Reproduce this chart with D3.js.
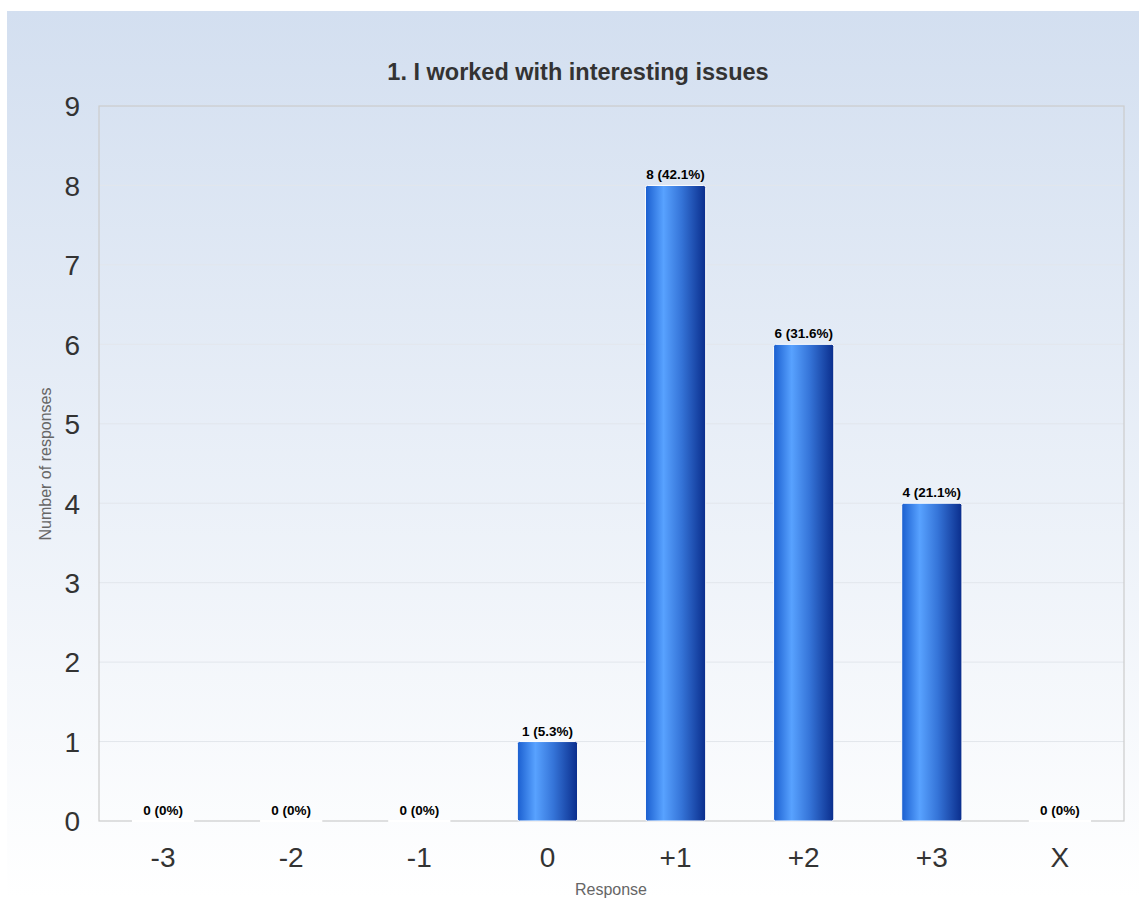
<!DOCTYPE html>
<html><head><meta charset="utf-8">
<script src="https://cdn.jsdelivr.net/npm/d3@7"></script>
<style>html,body{margin:0;padding:0;background:#fff;overflow:hidden}</style>
</head><body>
<svg id="c" width="1139" height="899"></svg>
<script>
const title = "1. I worked with interesting issues";
const categories = ["-3","-2","-1","0","+1","+2","+3","X"];
const counts = [0,0,0,1,8,6,4,0];
const percents = ["0%","0%","0%","5.3%","42.1%","31.6%","21.1%","0%"];
const yTicks = [0,1,2,3,4,5,6,7,8,9];
const yTitle = "Number of responses";
const xTitle = "Response";

const FONT = "Liberation Sans, Arial, sans-serif";
const svg = d3.select("#c");
const defs = svg.append("defs");
const bg = defs.append("linearGradient").attr("id","bg").attr("x1",0).attr("y1",0).attr("x2",0).attr("y2",1);
bg.append("stop").attr("offset","0%").attr("stop-color","#d3dff0");
bg.append("stop").attr("offset","100%").attr("stop-color","#ffffff");
const bar = defs.append("linearGradient").attr("id","bar").attr("x1",0).attr("y1",0).attr("x2",1).attr("y2",0);
bar.append("stop").attr("offset","0%").attr("stop-color","#1a5ecf");
bar.append("stop").attr("offset","30%").attr("stop-color","#58a2ff");
bar.append("stop").attr("offset","60%").attr("stop-color","#3574d8");
bar.append("stop").attr("offset","100%").attr("stop-color","#0a2d8c");

svg.append("rect").attr("x",7).attr("y",11).attr("width",1132).attr("height",886).attr("fill","url(#bg)");

const m = {l:99, r:1124, t:106, b:821};
const x = d3.scaleBand().domain(categories).range([m.l, m.r]).paddingInner(0.53).paddingOuter(0.265);
const y = d3.scaleLinear().domain([0,9]).range([m.b, m.t]);

// grid
svg.append("g").selectAll("line").data(yTicks.filter(d=>d>0 && d<9)).join("line")
  .attr("x1",m.l).attr("x2",m.r).attr("y1",d=>y(d)).attr("y2",d=>y(d))
  .attr("stroke","#e2e6ec").attr("stroke-width",1);

// plot border
svg.append("rect").attr("x",m.l).attr("y",m.t).attr("width",m.r-m.l).attr("height",m.b-m.t)
  .attr("fill","none").attr("stroke","#cccccc").attr("stroke-width",1.2);

// bars
const g = svg.append("g");
categories.forEach((c,i)=>{
  const v = counts[i];
  if (v > 0) {
    g.append("rect").attr("x",x(c)).attr("y",y(v)).attr("width",x.bandwidth()).attr("height",y(0)-y(v))
      .attr("rx",2).attr("fill","url(#bar)").attr("stroke","#ffffff").attr("stroke-width",1);
  } else {
    g.append("line").attr("x1",x(c)-1).attr("x2",x(c)+x.bandwidth()+1).attr("y1",y(0)).attr("y2",y(0))
      .attr("stroke","#ffffff").attr("stroke-width",2);
  }
  g.append("text").attr("x",x(c)+x.bandwidth()/2).attr("y",y(v)-6)
    .attr("text-anchor","middle").attr("font-family",FONT)
    .attr("font-size",13.5).attr("font-weight","bold").attr("fill","#000")
    .text(v + " (" + percents[i] + ")");
});

// y axis labels
const ya = d3.axisLeft(y).tickValues(yTicks).tickSize(0).tickPadding(19).tickFormat(d3.format("d"));
const yg = svg.append("g").attr("transform",`translate(${m.l},0)`).call(ya);
yg.select(".domain").remove();
yg.selectAll("text").attr("font-family",FONT).attr("font-size",28).attr("fill","#333").attr("dy","0.35em");

// x axis labels
const xa = d3.axisBottom(x).tickSize(0).tickPadding(26);
const xg = svg.append("g").attr("transform",`translate(0,${m.b})`).call(xa);
xg.select(".domain").remove();
xg.selectAll("text").attr("font-family",FONT).attr("font-size",28).attr("fill","#333").attr("dy","0.71em");

// titles
svg.append("text").attr("x",578).attr("y",80).attr("text-anchor","middle")
  .attr("font-family",FONT).attr("font-size",23.5).attr("font-weight","bold").attr("fill","#333")
  .text(title);
svg.append("text").attr("transform","translate(51,464) rotate(-90)").attr("text-anchor","middle")
  .attr("font-family",FONT).attr("font-size",16).attr("fill","#666").text(yTitle);
svg.append("text").attr("x",611).attr("y",895).attr("text-anchor","middle")
  .attr("font-family",FONT).attr("font-size",16).attr("fill","#666").text(xTitle);
</script>
</body></html>
